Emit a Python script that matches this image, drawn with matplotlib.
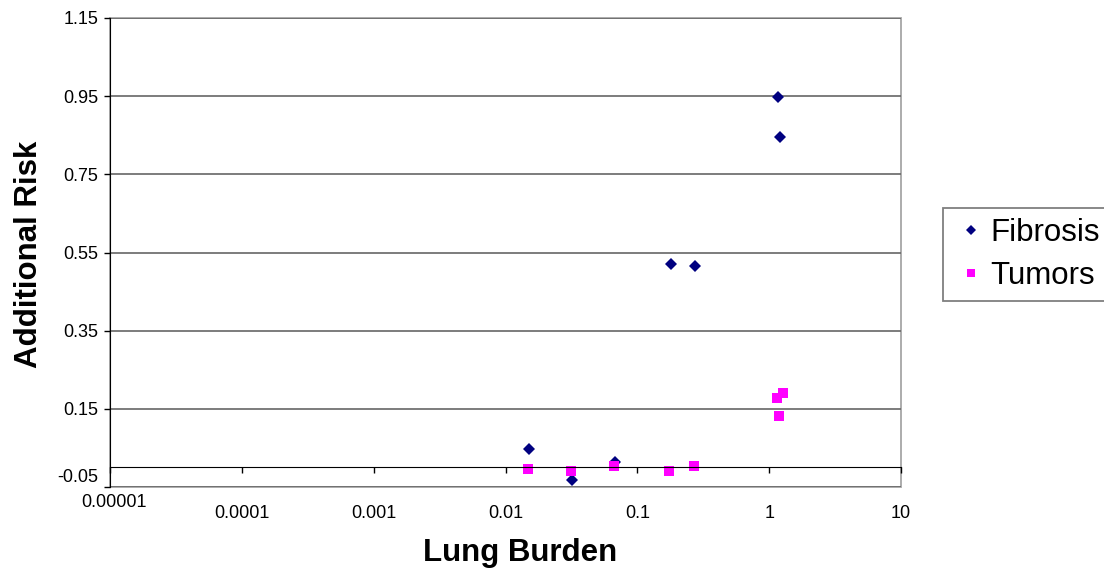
import numpy as np
import matplotlib
matplotlib.use("Agg")
import matplotlib.pyplot as plt
from matplotlib.transforms import ScaledTranslation

plt.rcParams['font.family'] = ['Liberation Sans', 'DejaVu Sans']

# values
fibrosis_x = [0.0152, 0.0318, 0.0679, 0.179, 0.275, 1.16, 1.20]
fibrosis_y = [0.047, -0.032, 0.015, 0.520, 0.516, 0.947, 0.846]
tumors_x = [0.0149, 0.0313, 0.067, 0.175, 0.270, 1.28, 1.14, 1.18]
tumors_y = [-0.004, -0.008, 0.004, -0.008, 0.004, 0.190, 0.178, 0.132]

x_ticks = [1e-5, 1e-4, 1e-3, 1e-2, 1e-1, 1, 10]
x_tick_labels = ['0.00001', '0.0001', '0.001', '0.01', '0.1', '1', '10']
y_ticks = [-0.05, 0.15, 0.35, 0.55, 0.75, 0.95, 1.15]
y_tick_labels = ['-0.05', '0.15', '0.35', '0.55', '0.75', '0.95', '1.15']

fig = plt.figure(figsize=(11.04, 5.76), dpi=100)
ax = fig.add_axes([110 / 1104, 1 - 487 / 576, 791 / 1104, 469 / 576])

ax.plot(fibrosis_x, fibrosis_y, linestyle='none', marker='D', ms=6.3, mew=0,
        color='#000080', label='Fibrosis')
ax.plot(tumors_x, tumors_y, linestyle='none', marker='s', ms=7.0, mew=0,
        color='#FF00FF', label='Tumors')

ax.set_xscale('log')
ax.set_xlim(1e-5, 10)
ax.set_ylim(-0.05, 1.15)
ax.minorticks_off()

ax.set_xticks(x_ticks)
ax.set_xticklabels(x_tick_labels)
ax.set_yticks(y_ticks)
ax.set_yticklabels(y_tick_labels)

# plot area frame and gridlines, Excel style
ax.patch.set_edgecolor('#a6a6a6')
ax.patch.set_linewidth(1.3)
ax.spines['top'].set_visible(False)
ax.spines['right'].set_visible(False)
ax.spines['left'].set_color('black')
ax.spines['bottom'].set_position(('data', 0))
ax.spines['bottom'].set_color('black')
ax.grid(axis='y', color='#666666', linewidth=1.2)
ax.set_axisbelow(True)

ax.tick_params(axis='x', direction='out', length=4.3, width=1, pad=22.5,
               labelsize=13)
ax.tick_params(axis='y', direction='out', length=4.3, width=1, pad=4.3,
               labelsize=13)

# Excel nudged the corner labels
lab = ax.get_xticklabels()[0]
lab.set_transform(lab.get_transform() + ScaledTranslation(0.04, 0.11, fig.dpi_scale_trans))
lab = ax.get_yticklabels()[0]
lab.set_transform(lab.get_transform() + ScaledTranslation(0, 0.12, fig.dpi_scale_trans))

ax.set_xlabel('Lung Burden', fontsize=22.5, fontweight='bold')
ax.xaxis.label.set_va('center')
ax.xaxis.set_label_coords((520 - 110) / 791, (487 - 552.5) / 469)
ax.set_ylabel('Additional Risk', fontsize=22.5, fontweight='bold')
ax.yaxis.label.set_va('center')
ax.yaxis.set_label_coords((29 - 110) / 791, (487 - 254.5) / 469)

leg = ax.legend(loc='upper left', bbox_to_anchor=(943 / 1104, 1 - 208 / 576),
                bbox_transform=fig.transFigure, borderaxespad=0,
                fontsize=22.5, frameon=True, fancybox=False, shadow=False,
                edgecolor='#7f7f7f', framealpha=1, borderpad=0.32,
                handlelength=1.15, handletextpad=0.05, labelspacing=0.4,
                markerscale=0.8)
leg.get_frame().set_linewidth(1.3)

fig.savefig('out.png', dpi=100)
